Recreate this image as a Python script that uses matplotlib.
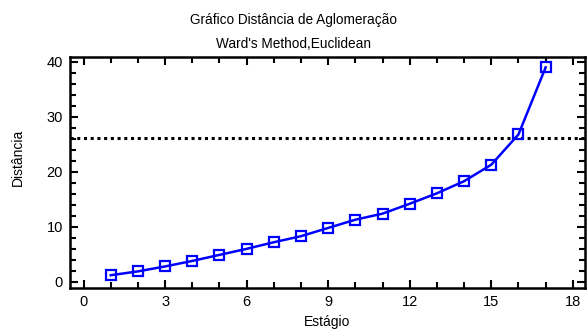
import matplotlib
matplotlib.use("Agg")
import matplotlib.pyplot as plt
from matplotlib.ticker import MultipleLocator

plt.rcParams['font.family'] = ['Liberation Sans', 'DejaVu Sans']

estagio = list(range(1, 18))
distancia = [1.2, 1.9, 2.8, 3.8, 4.9, 6.0, 7.2, 8.3, 9.8, 11.3, 12.4, 14.2, 16.1, 18.3, 21.3, 26.8, 39.0]
corte = 26.2

title1 = "Gráfico Distância de Aglomeração"
title2 = "Ward's Method,Euclidean"
xlabel = "Estágio"
ylabel = "Distância"

fig = plt.figure(figsize=(5.88, 3.29), dpi=100)
ax = fig.add_axes([0.119, 0.125, 0.876, 0.702])

ax.plot(estagio, distancia, color='#0000ff', lw=1.8, marker='s', ms=6.5,
        mfc='none', mec='#0000ff', mew=1.6, zorder=3)
ax.axhline(corte, color='black', lw=2.2, ls=(0, (1, 1.2)), zorder=2)

ax.set_xlim(-0.5, 18.45)
ax.set_ylim(-1.1, 40.9)
ax.xaxis.set_major_locator(MultipleLocator(3))
ax.xaxis.set_minor_locator(MultipleLocator(1))
ax.yaxis.set_major_locator(MultipleLocator(10))
ax.yaxis.set_minor_locator(MultipleLocator(2))

for s in ax.spines.values():
    s.set_linewidth(1.8)
ax.tick_params(which='both', direction='in', top=True, right=True, width=1.5,
               labelsize=10.5, pad=5)
ax.tick_params(which='major', length=6)
ax.tick_params(which='minor', length=4)

fig.text(0.5, 0.94, title1, ha='center', va='center', fontsize=9.8)
fig.text(0.5, 0.867, title2, ha='center', va='center', fontsize=9.8)
fig.text(0.557, 0.02, xlabel, ha='center', va='center', fontsize=10)
fig.text(0.03, 0.523, ylabel, ha='center', va='center', fontsize=10,
         rotation=90)

fig.savefig('out.png', dpi=100)
